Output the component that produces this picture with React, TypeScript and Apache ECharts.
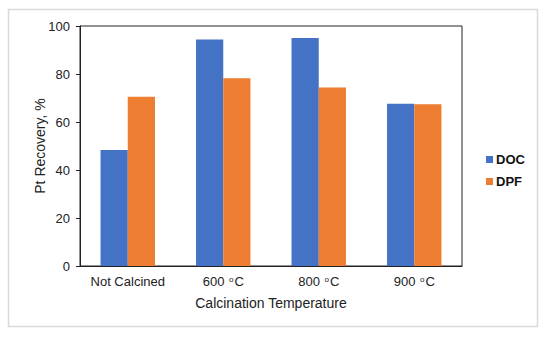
import React, { useEffect, useRef } from "react";
import * as echarts from "echarts";

const categories = ["Not Calcined", "600 {sup|o}C", "800 {sup|o}C", "900 {sup|o}C"];
const docValues = [48.3, 94.4, 95.0, 67.6];
const dpfValues = [70.5, 78.2, 74.4, 67.4];
const yTicks = { min: 0, max: 100, interval: 20 };

export default function App() {
  const ref = useRef<HTMLDivElement>(null);
  useEffect(() => {
    if (!ref.current) return;
    const chart = echarts.init(ref.current, undefined, { renderer: "svg" });
    const font = "Liberation Sans, Arial, sans-serif";
    chart.setOption({
      animation: false,
      backgroundColor: "#fff",
      textStyle: { fontFamily: font },
      graphic: [
        {
          type: "rect",
          shape: { x: 8.5, y: 9.5, width: 529, height: 317 },
          style: { fill: "none", stroke: "#d9d9d9", lineWidth: 1.5 },
          silent: true,
        },
      ],
      grid: {
        left: 80,
        top: 26,
        width: 382,
        height: 240,
        show: true,
        borderColor: "#222",
        borderWidth: 1,
        backgroundColor: "transparent",
      },
      legend: {
        orient: "vertical",
        left: 481,
        top: 148,
        itemWidth: 7,
        itemHeight: 7,
        itemGap: 9,
        icon: "rect",
        textStyle: { fontFamily: font, fontSize: 13, fontWeight: "bold", color: "#111", padding: [0, 0, 0, -2] },
        data: ["DOC", "DPF"],
      },
      xAxis: {
        type: "category",
        data: categories,
        axisLine: { lineStyle: { color: "#222", width: 1 } },
        axisTick: { show: false },
        axisLabel: {
          interval: 0,
          fontFamily: font,
          fontSize: 13,
          color: "#222",
          margin: 9,
          rich: {
            sup: { fontSize: 8, fontFamily: font, color: "#222", verticalAlign: "top", padding: [0, 1, 0, 1] },
          },
        },
        name: "Calcination Temperature",
        nameLocation: "middle",
        nameGap: 30,
        nameTextStyle: { fontFamily: font, fontSize: 14, color: "#222" },
      },
      yAxis: {
        type: "value",
        min: yTicks.min,
        max: yTicks.max,
        interval: yTicks.interval,
        axisLine: { show: true, lineStyle: { color: "#222", width: 1 } },
        axisTick: { show: true, length: 4, lineStyle: { color: "#222" } },
        splitLine: { show: false },
        axisLabel: { fontFamily: font, fontSize: 13, color: "#222", margin: 10 },
        name: "Pt Recovery, %",
        nameLocation: "middle",
        nameGap: 33,
        nameMoveOverlap: false,
        nameTextStyle: { fontFamily: font, fontSize: 14, color: "#222" },
      },
      series: [
        {
          name: "DOC",
          type: "bar",
          data: docValues,
          itemStyle: { color: "#4472C4" },
          barGap: "0%",
          barCategoryGap: "43%",
        },
        {
          name: "DPF",
          type: "bar",
          data: dpfValues,
          itemStyle: { color: "#ED7D31" },
          barGap: "0%",
          barCategoryGap: "43%",
        },
      ],
    });
    return () => chart.dispose();
  }, []);
  return <div ref={ref} style={{ position: "absolute", left: 0, top: 0, width: 550, height: 338 }} />;
}
